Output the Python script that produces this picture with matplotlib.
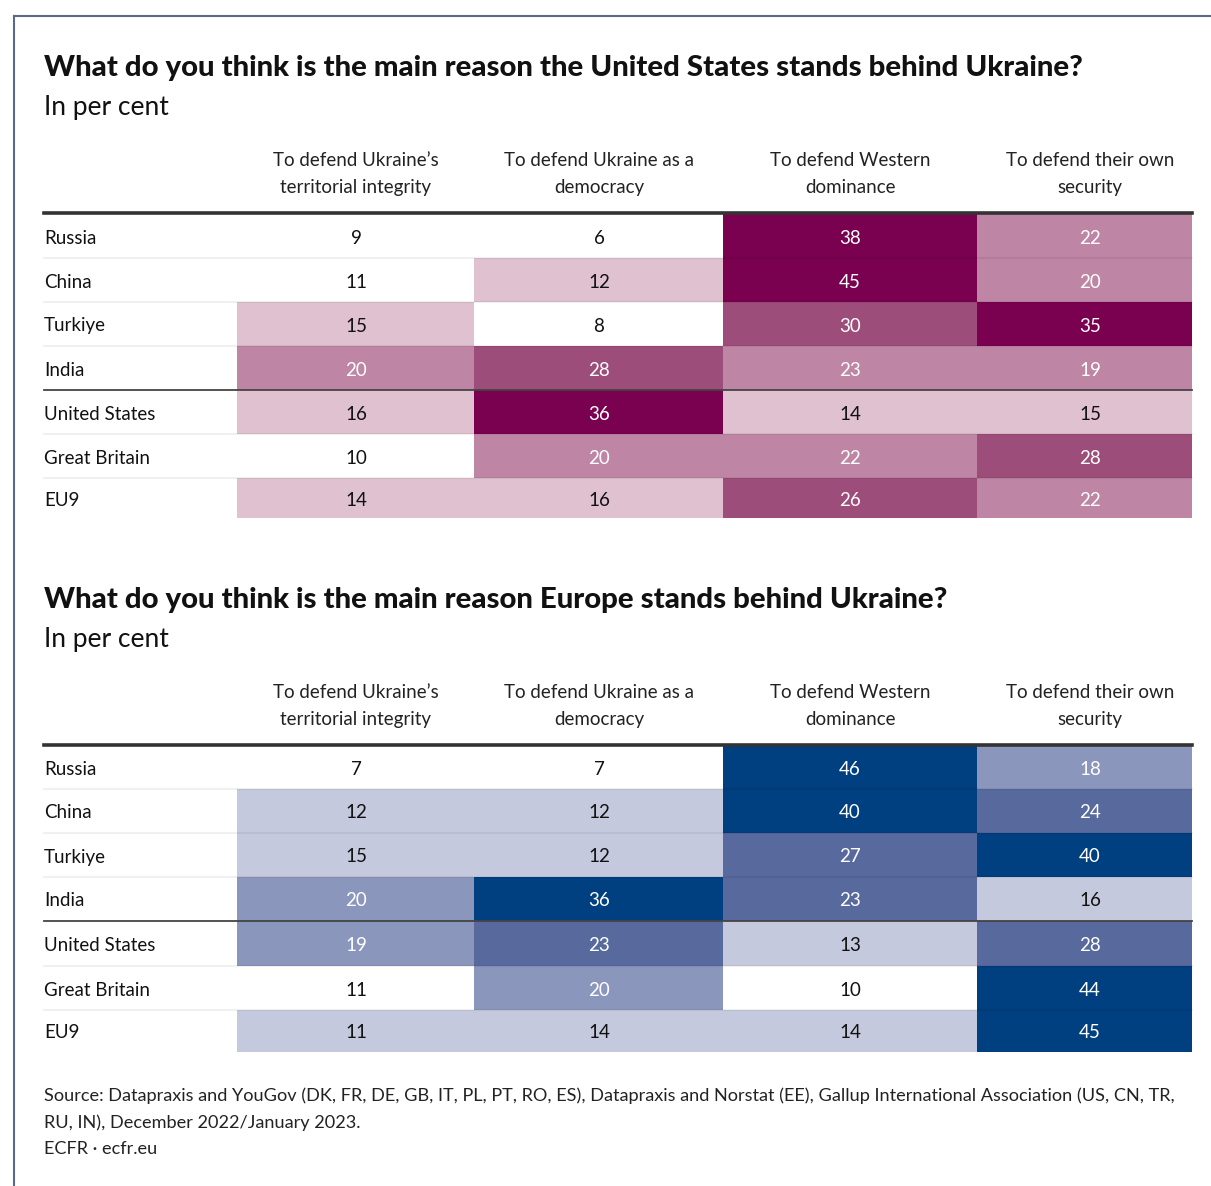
import matplotlib
matplotlib.use("Agg")
import matplotlib.pyplot as plt
import numpy as np
from matplotlib.colors import ListedColormap

# ---------------- data ----------------
countries = ["Russia", "China", "Turkiye", "India", "United States", "Great Britain", "EU9"]
reasons = ["To defend Ukraine’s\nterritorial integrity",
           "To defend Ukraine as a\ndemocracy",
           "To defend Western\ndominance",
           "To defend their own\nsecurity"]

us_territorial = [9, 11, 15, 20, 16, 10, 14]
us_democracy = [6, 12, 8, 28, 36, 20, 16]
us_western = [38, 45, 30, 23, 14, 22, 26]
us_security = [22, 20, 35, 19, 15, 28, 22]

eu_territorial = [7, 12, 15, 20, 19, 11, 11]
eu_democracy = [7, 12, 12, 36, 23, 20, 14]
eu_western = [46, 40, 27, 23, 13, 10, 14]
eu_security = [18, 24, 40, 16, 28, 44, 45]

# shade class of each cell (0 = white ... 4 = darkest), as shown in the source
us_shade_territorial = [0, 0, 1, 2, 1, 0, 1]
us_shade_democracy = [0, 1, 0, 3, 4, 2, 1]
us_shade_western = [4, 4, 3, 2, 1, 2, 3]
us_shade_security = [2, 2, 4, 2, 1, 3, 2]

eu_shade_territorial = [0, 1, 1, 2, 2, 0, 1]
eu_shade_democracy = [0, 1, 1, 4, 3, 2, 1]
eu_shade_western = [4, 4, 3, 3, 1, 0, 1]
eu_shade_security = [2, 3, 4, 1, 3, 4, 4]

title_us = "What do you think is the main reason the United States stands behind Ukraine?"
title_eu = "What do you think is the main reason Europe stands behind Ukraine?"
subtitle = "In per cent"
source = ("Source: Datapraxis and YouGov (DK, FR, DE, GB, IT, PL, PT, RO, ES), Datapraxis and Norstat (EE), "
          "Gallup International Association (US, CN, TR,\nRU, IN), December 2022/January 2023.\nECFR · ecfr.eu")

purple_colors = ["#ffffff", "#e0c1d0", "#be85a4", "#9c4d7a", "#7a0050"]
blue_colors = ["#ffffff", "#c4c9dd", "#8b96bd", "#58699e", "#003f80"]

# ---------------- layout ----------------
W, H = 1211, 1186
fig = plt.figure(figsize=(W / 100, H / 100), dpi=100)
ax = fig.add_axes([0, 0, 1, 1])
ax.set_xlim(0, W)
ax.set_ylim(H, 0)
ax.axis("off")

FONT = "Lato"
left = 44
col_edges = [237, 474, 723, 977, 1192]
col_centers = [356, 599, 850, 1090]


def draw_table(values, shades, colors, title, top_title, header_line, row_edges):
    cmap = ListedColormap(colors)
    data = np.array(values).T
    levels = np.array(shades).T
    ax.pcolormesh(col_edges, row_edges, levels, cmap=cmap, vmin=-0.5, vmax=4.5,
                  edgecolor="none", shading="flat", zorder=1)
    ax.text(left, top_title, title, fontsize=21.2, fontweight="black", family=FONT,
            va="center", ha="left", color="#111111")
    ax.text(left, top_title + 39, subtitle, fontsize=19, family=FONT,
            va="center", ha="left", color="#111111")
    for j, r in enumerate(reasons):
        ax.text(col_centers[j], header_line - 39, r, fontsize=13.5, family=FONT, ha="center",
                va="center", linespacing=1.75, color="#222222")
    for i in range(1, len(countries)):
        y = row_edges[i]
        if i == 4:
            ax.plot([left, col_edges[-1]], [y, y], color="#444444", lw=1.3, zorder=3)
        else:
            ax.plot([left, col_edges[-1]], [y, y], color="#000000", alpha=0.06, lw=1.5, zorder=2)
    ax.plot([left, col_edges[-1]], [header_line, header_line], color="#333333", lw=2.6, zorder=3)
    for i, c in enumerate(countries):
        cy = (row_edges[i] + row_edges[i + 1]) / 2 + 2
        ax.text(left, cy, c, fontsize=13.5, family=FONT, ha="left", va="center", color="#111111")
        for j in range(len(reasons)):
            tc = "white" if levels[i, j] >= 2 else "#111111"
            ax.text(col_centers[j], cy, str(data[i, j]), fontsize=13.5, family=FONT, ha="center",
                    va="center", color=tc, zorder=4)


draw_table([us_territorial, us_democracy, us_western, us_security],
           [us_shade_territorial, us_shade_democracy, us_shade_western, us_shade_security],
           purple_colors, title_us, 68, 213, [214, 258, 302, 346, 390, 434, 478, 518])
draw_table([eu_territorial, eu_democracy, eu_western, eu_security],
           [eu_shade_territorial, eu_shade_democracy, eu_shade_western, eu_shade_security],
           blue_colors, title_eu, 600, 745, [746, 789, 833, 877, 921, 966, 1010, 1052])

ax.text(left, 1087, source, fontsize=13.1, family=FONT, ha="left", va="top", linespacing=1.8,
        color="#222222")

ax.plot([13.5, 13.5], [16, H], color="#5a6a88", lw=1.5)
ax.plot([13.5, W], [16, 16], color="#5a6a88", lw=1.5)

fig.savefig("out.png", dpi=100, facecolor="white")
